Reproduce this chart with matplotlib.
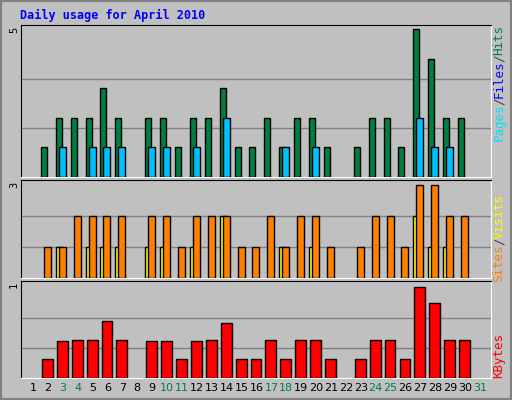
import matplotlib
matplotlib.use("Agg")
import matplotlib.pyplot as plt
import numpy as np

days = list(range(1, 32))
weekend = [3, 4, 10, 11, 17, 18, 24, 25, 31]
hits = [0,1,2,2,2,3,2,0,2,2,1,2,2,3,1,1,2,1,2,2,1,0,1,2,2,1,5,4,2,2,0]
files = [0,0,1,0,1,1,1,0,1,1,0,1,0,2,0,0,0,1,0,1,0,0,0,0,0,0,2,1,1,0,0]
pages = [0]*31
visits = [0,1,1,2,2,2,2,0,2,2,1,2,2,2,1,1,2,1,2,2,1,0,1,2,2,1,3,3,2,2,0]
sites = [0,0,1,0,1,1,1,0,1,1,0,1,0,2,0,0,0,1,0,1,0,0,0,0,0,0,2,1,1,0,0]
kbytes = [0,0.21,0.41,0.42,0.42,0.63,0.42,0,0.41,0.41,0.21,0.41,0.42,0.61,0.21,0.21,
          0.42,0.21,0.42,0.42,0.21,0,0.21,0.42,0.42,0.21,1.0,0.83,0.42,0.42,0]
title = "Daily usage for April 2010"

W, H = 512, 400
fig = plt.figure(figsize=(W/100, H/100), dpi=100, facecolor="#C0C0C0")
mono = "DejaVu Sans Mono"
x = np.array(days)

def pax(x0, y0, x1, y1):
    ax = fig.add_axes([x0/W, 1-y1/H, (x1-x0)/W, (y1-y0)/H])
    ax.set_facecolor("#C0C0C0")
    ax.set_xlim(0.195, 31.74)
    ax.set_xticks([]); ax.set_yticks([])
    for s in ("left", "top"):
        ax.spines[s].set_color("black")
    for s in ("right", "bottom"):
        ax.spines[s].set_color("white")
    return ax

def grid(ax, mx):
    for f in (1/3, 2/3):
        ax.axhline(mx*f, color="#808080", lw=1, zorder=1)

kw = dict(edgecolor="black", linewidth=1, align="edge", zorder=3)

ax1 = pax(21, 25, 491, 177)
ax1.set_ylim(0, 5*1.03)
grid(ax1, 5)
h = np.array(hits); f = np.array(files); p = np.array(pages)
m = h > 0
ax1.bar(x[m]-0.47, h[m], width=0.4, color="#008040", **kw)
m = f > 0
ax1.bar(x[m]-0.27, f[m], width=0.47, color="#00C0FF", **kw)
m = p > 0
ax1.bar(x[m]-0.07, p[m], width=0.4, color="#00E0FF", **kw)

ax2 = pax(21, 180, 491, 278)
ax2.set_ylim(0, 3*1.05)
grid(ax2, 3)
v = np.array(visits); s = np.array(sites)
m = s > 0
ax2.bar(x[m]-0.47, s[m], width=0.4, color="#FFFF00", **kw)
m = v > 0
ax2.bar(x[m]-0.27, v[m], width=0.47, color="#FF8000", **kw)

ax3 = pax(21, 281, 491, 378)
ax3.set_ylim(0, 1.0*1.07)
grid(ax3, 1.0)
k = np.array(kbytes)
m = k > 0
ax3.bar(x[m]-0.4, k[m], width=0.73, color="#FF0000", **kw)

for d in days:
    xp = (33 + 14.9*(d-1))/W
    fig.text(xp, 1-388/H, str(d), ha="center", va="center", fontsize=8,
             color="#008040" if d in weekend else "black")

fig.text(20/W, 1-15/H, title, ha="left", va="center", fontsize=8.5,
         family=mono, weight="bold", color="#0000FF")

for txt, y in (("5", 30), ("3", 185), ("1", 285)):
    fig.text(14/W, 1-y/H, txt, ha="center", va="center", fontsize=7.5,
             family=mono, rotation=90)

def rlabel(parts, ycenter):
    total = sum(len(t) for t, c in parts)
    ch = 7.2
    y = ycenter + total*ch/2
    for t, c in parts:
        n = len(t)
        fig.text(499/W, 1-(y - n*ch/2)/H, t, ha="center", va="center",
                 rotation=90, fontsize=9, family=mono, color=c)
        y -= n*ch

rlabel([("Pages", "#00E0FF"), ("/", "#404040"), ("Files", "#0000FF"),
        ("/", "#404040"), ("Hits", "#008040")], 83)
rlabel([("Sites", "#FF8000"), ("/", "#404040"), ("Visits", "#FFFF00")], 238)
rlabel([("KBytes", "#FF0000")], 356)

fig.add_artist(plt.Rectangle((1/W, 1/H), 1-2/W, 1-2/H, fill=False,
                             edgecolor="#808080", lw=1.5, transform=fig.transFigure))

fig.savefig("out.png", dpi=100, facecolor="#C0C0C0")
